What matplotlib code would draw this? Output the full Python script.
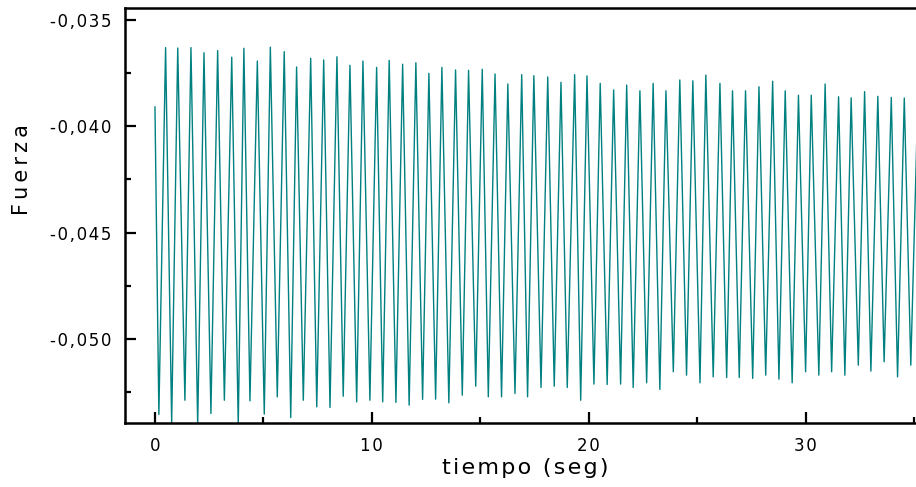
import matplotlib
matplotlib.use("Agg")
import matplotlib.pyplot as plt
from matplotlib.ticker import MultipleLocator, FuncFormatter

# extremes of the oscillation (time in s, force)
tiempo = [0.00, 0.18, 0.49, 0.77, 1.05, 1.38, 1.66, 1.97, 2.26, 2.58,
          2.89, 3.20, 3.54, 3.84, 4.10, 4.38, 4.72, 5.04, 5.32, 5.64,
          5.96, 6.26, 6.53, 6.84, 7.18, 7.46, 7.78, 8.07, 8.39, 8.68,
          8.99, 9.30, 9.59, 9.91, 10.22, 10.50, 10.80, 11.11, 11.42, 11.72,
          12.03, 12.34, 12.63, 12.94, 13.23, 13.55, 13.86, 14.17, 14.46, 14.79,
          15.09, 15.37, 15.68, 15.98, 16.27, 16.60, 16.91, 17.18, 17.47, 17.80,
          18.11, 18.41, 18.72, 19.01, 19.35, 19.63, 19.92, 20.24, 20.53, 20.85,
          21.15, 21.47, 21.75, 22.05, 22.36, 22.67, 22.97, 23.28, 23.56, 23.90,
          24.20, 24.51, 24.80, 25.13, 25.40, 25.74, 26.05, 26.36, 26.63, 26.94,
          27.23, 27.56, 27.85, 28.16, 28.48, 28.77, 29.06, 29.38, 29.67, 30.00,
          30.26, 30.61, 30.90, 31.20, 31.52, 31.81, 32.10, 32.43, 32.72, 33.01,
          33.33, 33.62, 33.95, 34.24, 34.55, 34.85, 35.18]

fuerza = [-0.03909, -0.05355, -0.03630, -0.05394, -0.03632, -0.05288, -0.03630, -0.05405, -0.03654, -0.05350,
          -0.03644, -0.05288, -0.03675, -0.05405, -0.03633, -0.05291, -0.03693, -0.05353, -0.03628, -0.05272,
          -0.03649, -0.05369, -0.03721, -0.05288, -0.03680, -0.05319, -0.03688, -0.05322, -0.03673, -0.05269,
          -0.03713, -0.05296, -0.03693, -0.05288, -0.03723, -0.05296, -0.03690, -0.05298, -0.03708, -0.05311,
          -0.03701, -0.05284, -0.03751, -0.05283, -0.03723, -0.05300, -0.03735, -0.05264, -0.03737, -0.05222,
          -0.03732, -0.05272, -0.03754, -0.05272, -0.03801, -0.05256, -0.03757, -0.05272, -0.03762, -0.05228,
          -0.03768, -0.05222, -0.03793, -0.05228, -0.03757, -0.05288, -0.03763, -0.05212, -0.03798, -0.05214,
          -0.03829, -0.05212, -0.03806, -0.05228, -0.03833, -0.05206, -0.03798, -0.05237, -0.03833, -0.05154,
          -0.03782, -0.05170, -0.03786, -0.05206, -0.03759, -0.05178, -0.03798, -0.05181, -0.03833, -0.05181,
          -0.03833, -0.05185, -0.03814, -0.05170, -0.03788, -0.05189, -0.03833, -0.05206, -0.03854, -0.05154,
          -0.03854, -0.05170, -0.03801, -0.05154, -0.03861, -0.05170, -0.03866, -0.05123, -0.03837, -0.05151,
          -0.03859, -0.05107, -0.03864, -0.05178, -0.03867, -0.05123, -0.03853]

plt.rcParams['font.family'] = ['DejaVu Sans']


def spaced(s, gap="\u200a"):
    # the original labels are drawn with wide letter spacing
    return gap.join(s)


fig = plt.figure(figsize=(9.16, 4.87), dpi=100)
ax = fig.add_axes([0.1365, 0.1314, 0.8635, 0.8516])

ax.plot(tiempo, fuerza, color="#008080", lw=1.0)

ax.set_xlim(-1.38, 35.09)
ax.set_ylim(-0.05395, -0.03445)

# ticks inward, majors + minors like the original
ax.xaxis.set_major_locator(MultipleLocator(10))
ax.xaxis.set_minor_locator(MultipleLocator(5))
ax.yaxis.set_major_locator(MultipleLocator(0.005))
ax.yaxis.set_minor_locator(MultipleLocator(0.0025))
ax.yaxis.set_major_formatter(FuncFormatter(lambda v, p: spaced(f"{v:.3f}".replace(".", ","))))
ax.xaxis.set_major_formatter(FuncFormatter(lambda v, p: spaced(f"{v:.0f}")))

ax.tick_params(which="major", direction="in", length=8, width=1.6, labelsize=12, pad=10)
ax.tick_params(which="minor", direction="in", length=4.5, width=1.6)
ax.tick_params(top=False, right=False, which="both")

for s in ["left", "bottom", "top"]:
    ax.spines[s].set_linewidth(1.8)
ax.spines["right"].set_visible(False)

ax.set_xlabel(spaced("tiempo (seg)"), fontsize=16)
ax.set_ylabel(spaced("Fuerza", "\u2009"), fontsize=15)
ax.xaxis.set_label_coords(0.506, -0.085)
ax.yaxis.set_label_coords(-0.118, 0.612)

fig.savefig("out.png", dpi=100)
